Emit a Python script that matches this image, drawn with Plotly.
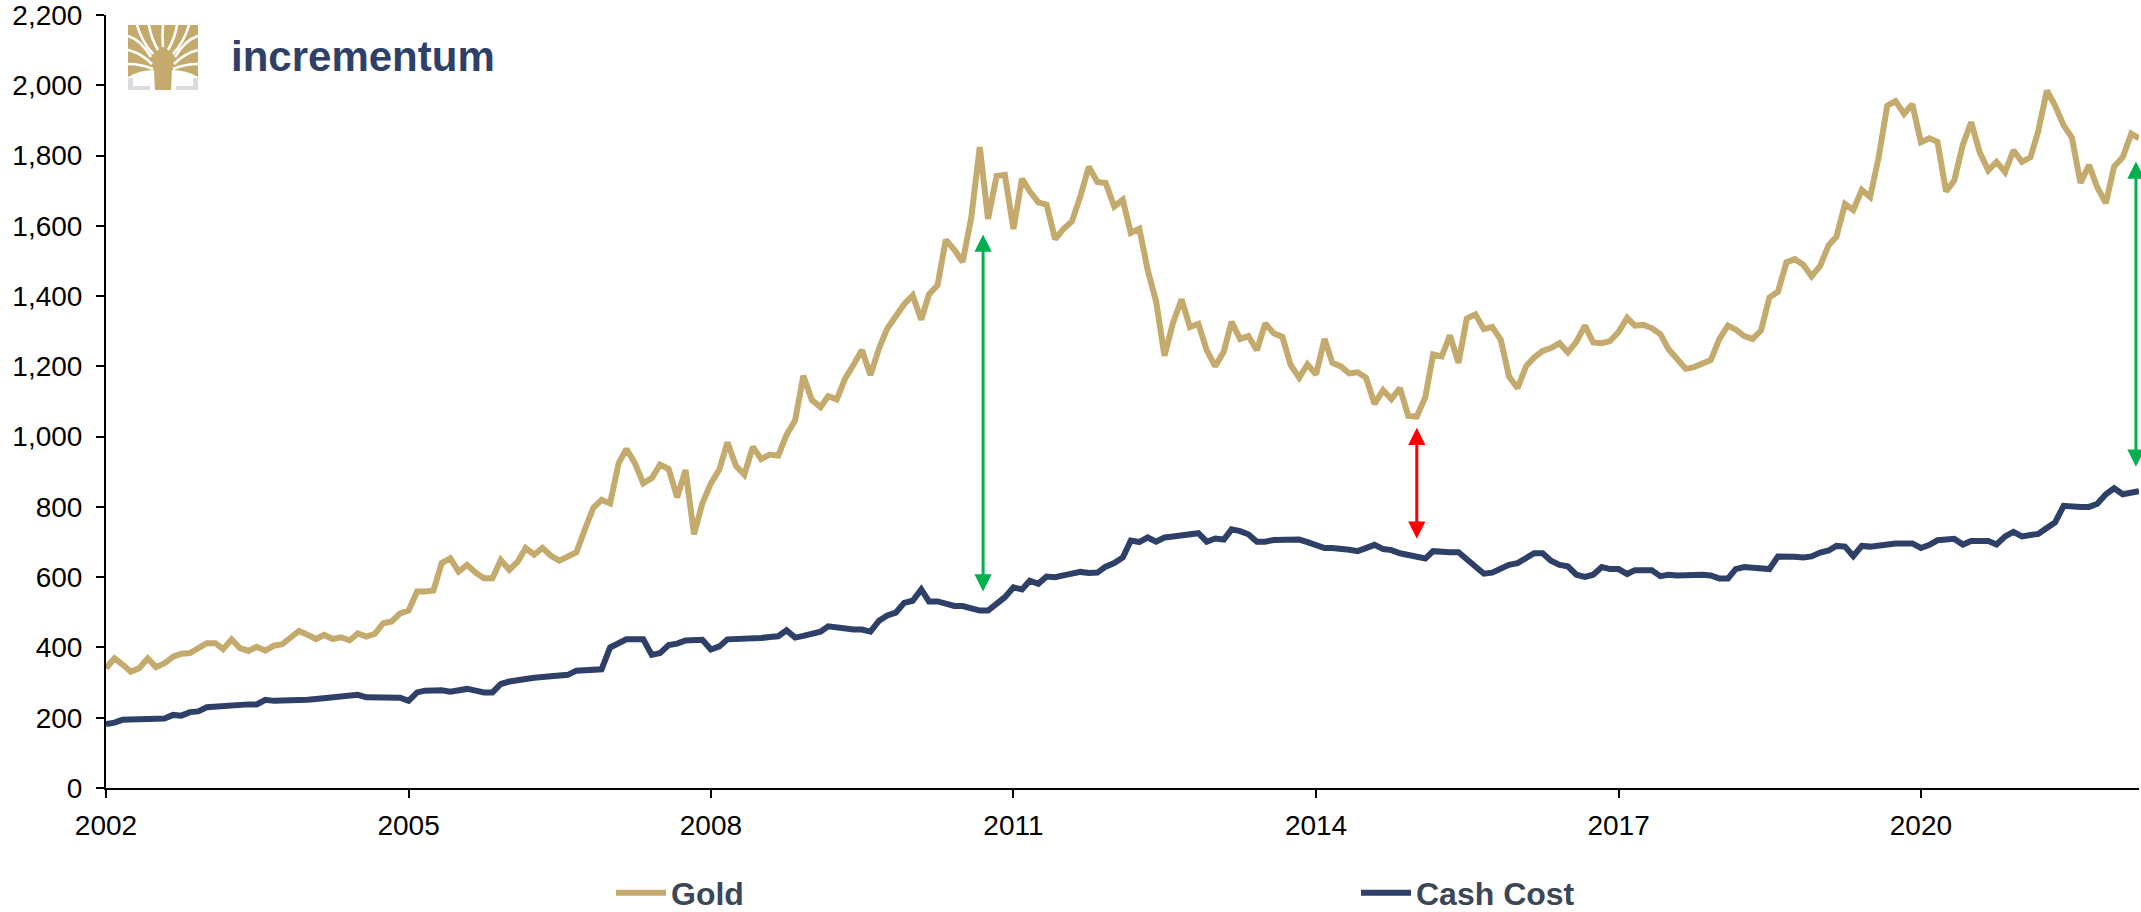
import pandas as pd
import plotly.graph_objects as go

# ---- data (monthly, USD/oz) ----
months = pd.date_range("2002-01-01", periods=243, freq="MS")

gold = [
    341, 369, 352, 331, 341, 369, 344, 355, 374, 382, 384, 398,
    412, 412, 395, 423, 398, 390, 402, 391, 405, 409, 426, 447,
    436, 424, 436, 424, 429, 420, 440, 431, 439, 469, 474, 497,
    505, 559, 559, 562, 640, 654, 616, 635, 613, 597, 597, 649,
    621, 645, 683, 664, 683, 661, 647, 661, 671, 735, 797, 820,
    810, 925, 965, 924, 867, 882, 920, 908, 827, 905, 722, 810,
    867, 907, 984, 917, 892, 971, 936, 949, 946, 1005, 1046, 1173,
    1104, 1084, 1115, 1106, 1165, 1205, 1247, 1175, 1251, 1308, 1343, 1377,
    1402, 1333, 1405, 1431, 1560, 1532, 1497, 1623, 1824, 1620, 1742, 1745,
    1591, 1734, 1698, 1667, 1660, 1562, 1591, 1613, 1686, 1768, 1725, 1722,
    1655, 1674, 1580, 1592, 1475, 1384, 1230, 1324, 1391, 1312, 1321, 1246,
    1200, 1242, 1327, 1278, 1286, 1246, 1322, 1294, 1284, 1204, 1168, 1206,
    1177, 1278, 1210, 1200, 1180, 1183, 1168, 1093, 1132, 1107, 1138, 1059,
    1057, 1113, 1234, 1228, 1288, 1210, 1336, 1348, 1306, 1312, 1276, 1171,
    1138, 1201, 1225, 1244, 1252, 1266, 1240, 1270, 1316, 1268, 1266, 1272,
    1298, 1338, 1316, 1318, 1309, 1292, 1249, 1220, 1193, 1198, 1209, 1218,
    1278, 1316, 1305, 1286, 1278, 1302, 1396, 1412, 1496, 1505, 1489, 1456,
    1486, 1545, 1569, 1662, 1645, 1702, 1682, 1795, 1942, 1955, 1919, 1946,
    1838, 1849, 1839, 1698, 1729, 1831, 1895, 1809, 1758, 1782, 1753, 1815,
    1782, 1795, 1869, 1985, 1942, 1886, 1851, 1722, 1773, 1709, 1665, 1769,
    1795, 1862, 1849,
]

cash_cost = [
    182, 186, 194, 195, 196, 195, 194, 198, 208, 206, 216, 218,
    230, 232, 236, 237, 237, 238, 238, 251, 248, 248, 249, 249,
    251, 253, 255, 255, 260, 260, 265, 258, 257, 257, 258, 257,
    248, 272, 277, 279, 278, 274, 278, 282, 277, 272, 272, 296,
    303, 308, 312, 314, 316, 317, 320, 322, 334, 336, 337, 338,
    400, 412, 423, 423, 423, 379, 384, 407, 411, 420, 421, 422,
    394, 403, 423, 423, 423, 425, 427, 430, 432, 449, 428, 433,
    438, 445, 460, 457, 451, 451, 451, 445, 476, 491, 499, 527,
    533, 565, 531, 531, 525, 518, 518, 512, 505, 505, 527, 543,
    571, 565, 590, 581, 602, 600, 605, 610, 615, 612, 613, 630,
    640, 656, 704, 700, 713, 701, 713, 716, 720, 724, 725, 701,
    710, 707, 736, 731, 722, 701, 701, 706, 707, 707, 707, 700,
    692, 683, 683, 682, 678, 674, 683, 692, 680, 677, 668, 663,
    658, 653, 674, 671, 671, 671, 650, 630, 610, 613, 624, 635,
    640, 653, 668, 668, 647, 635, 631, 607, 601, 607, 629, 623,
    623, 609, 620, 620, 620, 603, 607, 605, 607, 609, 607, 605,
    596, 596, 623, 629, 627, 623, 623, 659, 660, 658, 656, 659,
    670, 676, 689, 687, 660, 689, 687, 690, 696, 696, 696, 696,
    683, 692, 705, 707, 709, 693, 703, 703, 703, 693, 716, 729,
    716, 720, 723, 740, 756, 803, 800, 800, 800, 809, 836, 853,
    836, 840, 845,
]

tick_years = [2002, 2005, 2008, 2011, 2014, 2017, 2020]
y_ticks = list(range(0, 2201, 200))

# spread markers: (date, upper value, lower value, colour)
spreads = [
    ("2010-09-13", 1575, 555, "#00B050"),
    ("2015-01-01", 1025, 705, "#FF0000"),
    ("2022-02-18", 1783, 910, "#00B050"),
]

GOLD = "#C4AA6C"
NAVY = "#2E4068"
FONT = "Liberation Sans, Arial, sans-serif"

W, H = 2141, 912
ML, MR, MT, MB = 106, 2, 15, 124
PW, PH = W - ML - MR, H - MT - MB


def px(x):
    return (x - ML) / PW


def py(y):
    return (H - MB - y) / PH


def path(cmds):
    out = []
    for c in cmds:
        if isinstance(c, str):
            out.append(c)
        else:
            out.append(f"{px(c[0]):.5f},{py(c[1]):.5f}")
    return " ".join(out)


fig = go.Figure()
fig.add_trace(go.Scatter(x=months, y=gold, name="Gold", mode="lines", legend="legend",
                         line=dict(color=GOLD, width=6)))
fig.add_trace(go.Scatter(x=months, y=cash_cost, name="Cash Cost", mode="lines", legend="legend2",
                         line=dict(color=NAVY, width=6)))

annotations = []
for d, top, bottom, col in spreads:
    annotations.append(dict(
        x=d, y=top, ax=d, ay=bottom, xref="x", yref="y", axref="x", ayref="y",
        text="", showarrow=True, arrowhead=2, startarrowhead=2,
        arrowside="end+start", arrowwidth=3, arrowsize=1.15, startarrowsize=1.15,
        arrowcolor=col, standoff=0, startstandoff=0,
    ))

# wordmark
annotations.append(dict(
    x=px(229), y=py(57), xref="paper", yref="paper", xanchor="left", yanchor="middle",
    text="incrementum", showarrow=False,
    font=dict(family=FONT, size=42, color=NAVY, weight="bold"),
))

# tree emblem: gold canopy and trunk, white branch gaps, grey corner brackets
shapes = []
shapes.append(dict(type="path", xref="paper", yref="paper", line=dict(width=0), fillcolor=GOLD,
                   path=path(["M", (128, 25), "L", (198, 25), "L", (198, 77), "Q", (186, 70), (172, 70),
                              "L", (171, 90), "L", (155, 90), "L", (154, 70), "Q", (140, 70), (128, 77), "Z"]),
                   layer="above"))
gaps = [
    [(137, 25), (142, 42), (153, 54)],
    [(149, 25), (151, 38), (158, 50)],
    [(163, 25), (162, 36), (163, 47)],
    [(177, 25), (175, 38), (168, 50)],
    [(189, 25), (184, 42), (173, 54)],
    [(128, 36), (141, 40), (151, 57)],
    [(128, 50), (141, 53), (152, 64)],
    [(128, 64), (141, 64), (153, 69)],
    [(198, 36), (185, 40), (175, 57)],
    [(198, 50), (185, 53), (174, 64)],
    [(198, 64), (185, 64), (173, 69)],
]
for a, b, c in gaps:
    shapes.append(dict(type="path", xref="paper", yref="paper", layer="above",
                       line=dict(color="white", width=2.6),
                       path=path(["M", a, "Q", b, c])))
for x0, y0, x1, y1 in [(128, 78, 133, 90), (128, 86, 150, 90), (193, 78, 198, 90), (176, 86, 198, 90)]:
    shapes.append(dict(type="rect", xref="paper", yref="paper", layer="above",
                       x0=px(x0), x1=px(x1), y0=py(y1), y1=py(y0),
                       line=dict(width=0), fillcolor="#DCDCE0"))

legend_style = dict(orientation="h", xanchor="left", yanchor="middle", y=py(893), itemwidth=50,
                    font=dict(family=FONT, size=32, color="#3B4657", weight="bold"),
                    bgcolor="rgba(0,0,0,0)", borderwidth=0)

fig.update_layout(
    width=W, height=H,
    margin=dict(l=ML, r=MR, t=MT, b=MB, autoexpand=False),
    paper_bgcolor="white", plot_bgcolor="white",
    font=dict(family=FONT, color="black"),
    showlegend=True,
    legend=dict(x=px(611), **legend_style),
    legend2=dict(x=px(1356), **legend_style),
    annotations=annotations,
    shapes=shapes,
)

fig.update_xaxes(
    type="date", range=[months[0], months[-1]],
    tickvals=[f"{y}-01-01" for y in tick_years], ticktext=[str(y) for y in tick_years],
    showline=True, linecolor="black", linewidth=2,
    ticks="outside", ticklen=8, tickwidth=2, tickcolor="black", ticklabelstandoff=3,
    ticklabeloverflow="allow",
    showgrid=False, zeroline=False,
    tickfont=dict(family=FONT, size=28, color="black"),
)
fig.update_yaxes(
    range=[0, 2200], tickvals=y_ticks, tickformat=",",
    showline=True, linecolor="black", linewidth=2,
    ticks="outside", ticklen=8, tickwidth=2, tickcolor="black", ticklabelstandoff=8,
    ticklabeloverflow="allow",
    showgrid=False, zeroline=False,
    tickfont=dict(family=FONT, size=28, color="black"),
)

fig.write_html("out.html")
